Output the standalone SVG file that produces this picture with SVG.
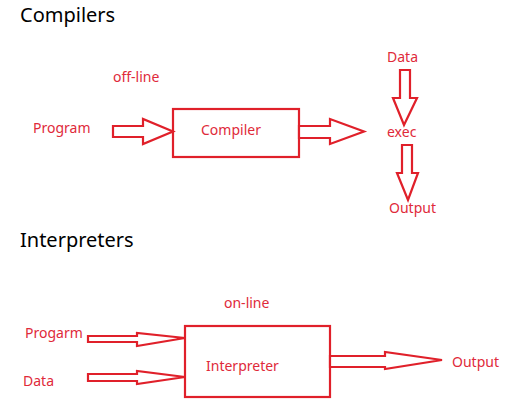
<svg xmlns="http://www.w3.org/2000/svg" width="530" height="418" viewBox="0 0 530 418">
<style>
.title{font-family:"Noto Sans","Open Sans",sans-serif;font-size:20px;fill:#000}
.lbl{font-family:"Noto Sans","Open Sans",sans-serif;font-size:14px;fill:#e02a3a}
.box{fill:none;stroke:#e0202a;stroke-width:2.2}
.arr{fill:#fff;stroke:#e0202a;stroke-width:2.2;stroke-linejoin:miter}
</style>
<rect width="530" height="418" fill="#fff"/>
<text class="title" x="20" y="22">Compilers</text>
<text class="title" x="20" y="247">Interpreters</text>
<text class="lbl" x="113" y="82">off-line</text>
<text class="lbl" x="224" y="308">on-line</text>
<g id="program"><text class="lbl" x="33" y="133">Program</text></g>
<g id="compiler">
<rect class="box" x="173" y="109" width="126" height="48"/>
<text class="lbl" x="201" y="135">Compiler</text>
</g>
<g id="data1"><text class="lbl" x="387" y="62">Data</text></g>
<g id="exec"><text class="lbl" x="387" y="137">exec</text></g>
<g id="output1"><text class="lbl" x="389" y="213">Output</text></g>
<g id="progarm"><text class="lbl" x="25" y="338">Progarm</text></g>
<g id="data2"><text class="lbl" x="23" y="386">Data</text></g>
<g id="interpreter">
<rect class="box" x="185" y="326" width="145" height="71"/>
<text class="lbl" x="206" y="371">Interpreter</text>
</g>
<g id="output2"><text class="lbl" x="452" y="367">Output</text></g>
<g id="connectors">
<polygon class="arr" points="113,126 143,126 143,119 173,131.5 143,144 143,137 113,137"/>
<polygon class="arr" points="299,126 330,126 330,119 364,131.5 330,144 330,138 299,138"/>
<polygon class="arr" points="400,70 410,70 410,98 417,98 404,125 393,98 400,98"/>
<polygon class="arr" points="402,145 412,145 412,173 418,173 408,200 397,173 402,173"/>
<polygon class="arr" points="88,336 137,336 137,333 185,338 137,346 137,342 88,342"/>
<polygon class="arr" points="88,374 137,374 137,371 185,377 137,384 137,381 88,381"/>
<polygon class="arr" points="330,356 385,356 385,352 442,360 385,369 385,367 330,367"/>
</g>
</svg>
